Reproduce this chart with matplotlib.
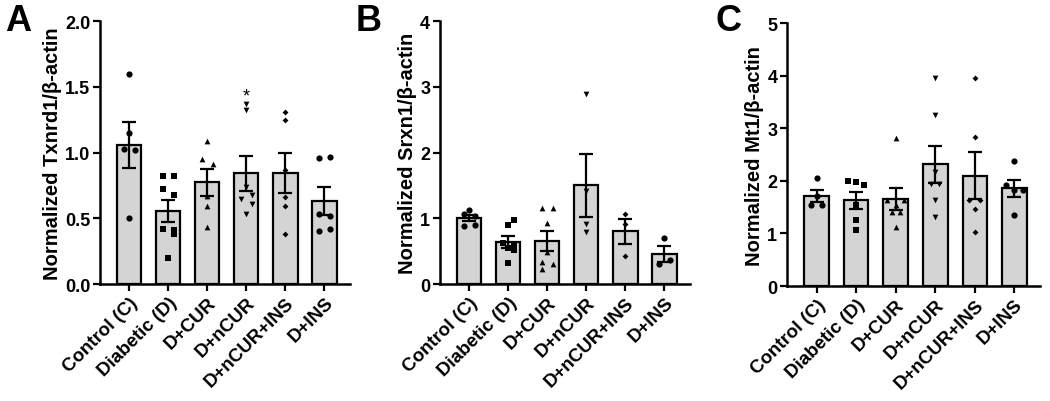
import matplotlib
matplotlib.use("Agg")
import matplotlib.pyplot as plt
import numpy as np

plt.rcParams['font.family'] = ['Liberation Sans', 'DejaVu Sans']
plt.rcParams['font.weight'] = 'bold'

# Group names on the x axis
groups = ["Control (C)", "Diabetic (D)", "D+CUR", "D+nCUR", "D+nCUR+INS", "D+INS"]
markers = ["o", "s", "^", "v", "D", "o"]
msizes = [20, 15, 17, 17, 9, 20]

# Panel A: Txnrd1 (individual points per group)
txnrd1 = [
    [1.60, 1.15, 1.03, 1.02, 0.50],
    [0.82, 0.82, 0.72, 0.68, 0.42, 0.41, 0.38, 0.20],
    [1.09, 0.95, 0.91, 0.67, 0.59, 0.43],
    [1.37, 1.32, 0.74, 0.68, 0.65, 0.61, 0.53],
    [1.31, 1.25, 0.87, 0.66, 0.59, 0.38],
    [0.96, 0.97, 0.53, 0.52, 0.40, 0.42],
]

# Panel B: Srxn1
srxn1 = [
    [1.12, 1.06, 1.04, 0.88, 0.90],
    [0.97, 0.90, 0.62, 0.60, 0.55, 0.52, 0.32],
    [1.16, 1.16, 0.93, 0.48, 0.34, 0.30, 0.23],
    [2.89, 1.41, 0.92, 0.79],
    [1.06, 0.92, 0.42],
    [0.70, 0.36, 0.30],
]

# Panel C: Mt1
mt1 = [
    [2.06, 1.71, 1.54, 1.54],
    [1.99, 1.93, 1.97, 1.54, 1.26, 1.07],
    [2.82, 1.63, 1.63, 1.55, 1.40, 1.40, 1.13],
    [3.96, 3.25, 2.17, 1.94, 1.94, 1.63, 1.32],
    [3.96, 2.84, 1.64, 1.64, 1.47, 1.03],
    [2.38, 1.92, 1.83, 1.83, 1.35],
]

# x offsets of the scattered points within each group
jitter = [
    [0, 0, -0.2, 0.2, 0],
    [-0.2, 0.2, -0.2, 0.2, -0.2, 0.2, 0.2, 0],
    [0, -0.2, 0.2, 0, 0, 0],
    [0, 0, 0, 0.2, -0.2, 0.2, 0],
    [0, 0, 0, 0, 0, 0],
    [-0.2, 0.2, -0.2, 0.2, -0.2, 0.2],
]
jitter_b = [
    [0, -0.2, 0.2, -0.2, 0.2],
    [0.2, 0, -0.2, 0.2, 0, 0.2, 0],
    [-0.2, 0.2, 0, 0, -0.2, 0.2, -0.2],
    [0, 0, 0, 0],
    [0, 0, 0],
    [0, 0.2, -0.2],
]
jitter_c = [
    [0, 0, -0.2, 0.2],
    [-0.3, 0.3, 0, 0, 0, 0],
    [0, -0.3, 0.3, 0, -0.15, 0.15, 0],
    [0, 0, 0, -0.15, 0.15, 0, 0],
    [0, 0, -0.2, 0.2, 0, 0],
    [0, -0.3, 0, 0.3, 0],
]

panels = [
    ("A", txnrd1, jitter, "Normalized Txnrd1/\u03b2-actin", 2.0, [0.0, 0.5, 1.0, 1.5, 2.0], ["0.0", "0.5", "1.0", "1.5", "2.0"]),
    ("B", srxn1, jitter_b, "Normalized Srxn1/\u03b2-actin", 4, [0, 1, 2, 3, 4], ["0", "1", "2", "3", "4"]),
    ("C", mt1, jitter_c, "Normalized Mt1/\u03b2-actin", 5, [0, 1, 2, 3, 4, 5], ["0", "1", "2", "3", "4", "5"]),
]

# axes positions [left, bottom, width, height] in figure fraction
positions = [
    [0.0952, 0.291, 0.238, 0.654],
    [0.419, 0.291, 0.238, 0.654],
    [0.7495, 0.286, 0.241, 0.654],
]
letter_x = [0.005, 0.339, 0.681]

fig = plt.figure(figsize=(10.5, 4.02), dpi=100)

for k, (letter, data, jit, ylabel, ymax, yticks, yticklabels) in enumerate(panels):
    ax = fig.add_axes(positions[k])
    x = np.arange(len(groups))
    means = [np.mean(d) for d in data]
    sems = [np.std(d, ddof=1) / np.sqrt(len(d)) for d in data]

    ax.bar(x, means, width=0.62, color="#d4d4d4", edgecolor="black", linewidth=1.6, zorder=1)
    ax.errorbar(x, means, yerr=sems, fmt="none", ecolor="black", elinewidth=1.6,
                capsize=5, capthick=1.6, zorder=3)
    for i, d in enumerate(data):
        ax.scatter(0.7 * np.array(jit[i]) + i, d, marker=markers[i], s=msizes[i], color="black",
                   zorder=4, linewidths=0)

    if letter == "A":
        ax.text(3, 1.43, "*", ha="center", va="center", fontsize=13, fontweight="normal")

    ax.set_xlim(-0.75, 5.65)
    ax.set_ylim(0, ymax)
    ax.set_yticks(yticks)
    ax.set_yticklabels(yticklabels, fontsize=13, fontweight="bold")
    ax.set_xticks(x)
    ax.set_xticklabels(groups, rotation=45, ha="right", rotation_mode="anchor",
                       fontsize=13.5, fontweight="bold")
    ax.set_ylabel(ylabel, fontsize=14.5, fontweight="bold", labelpad=2)
    for s in ["top", "right"]:
        ax.spines[s].set_visible(False)
    for s in ["left", "bottom"]:
        ax.spines[s].set_linewidth(1.8)
    ax.tick_params(axis="both", width=1.6, length=5, direction="out", pad=2)

    fig.text(letter_x[k], 0.99, letter, fontsize=26, fontweight="bold", va="top", ha="left")

fig.savefig("out.png", dpi=100)
